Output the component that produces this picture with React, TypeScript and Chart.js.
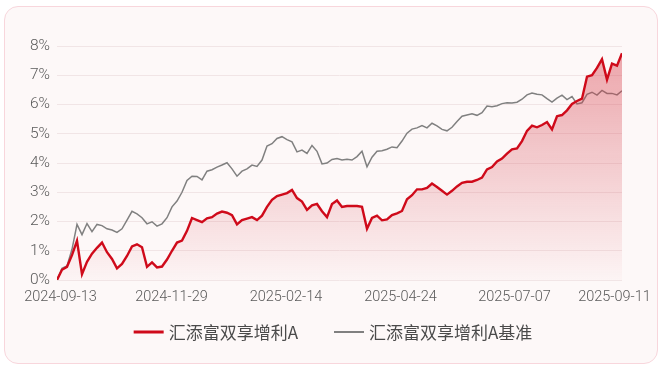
import React, { useEffect, useRef } from "react";
import { Chart, registerables } from "chart.js";

Chart.register(...registerables);

const fundName = "汇添富双享增利A";
const benchName = "汇添富双享增利A基准";

const tickLabels = ["2024-09-13", "2024-11-29", "2025-02-14", "2025-04-24", "2025-07-07", "2025-09-11"];
const tickIndex = [0.7, 22.9, 45.8, 68.7, 91.5, 111.5];

const yMin = 0;
const yMax = 8;

const fundValues = [
  0.0, 0.35, 0.45, 0.85, 1.34, 0.2, 0.62, 0.9, 1.1, 1.28,
  0.95, 0.72, 0.4, 0.55, 0.82, 1.15, 1.22, 1.12, 0.45, 0.6,
  0.43, 0.46, 0.7, 1.0, 1.28, 1.35, 1.68, 2.12, 2.05, 1.98,
  2.11, 2.15, 2.27, 2.34, 2.3, 2.22, 1.9, 2.05, 2.1, 2.15,
  2.05, 2.2, 2.5, 2.74, 2.87, 2.92, 2.97, 3.08, 2.8, 2.68,
  2.4, 2.55, 2.6, 2.35, 2.15, 2.6, 2.72, 2.5, 2.53, 2.53,
  2.53, 2.5, 1.75, 2.12, 2.2, 2.04, 2.07, 2.22, 2.28, 2.36,
  2.76, 2.9, 3.1, 3.1, 3.15, 3.3, 3.18, 3.05, 2.92, 3.05,
  3.2, 3.32, 3.36, 3.36, 3.42, 3.5, 3.78, 3.86, 4.05, 4.15,
  4.32, 4.47, 4.5, 4.75, 5.1, 5.28, 5.22, 5.3, 5.4, 5.15,
  5.6, 5.64, 5.8, 6.02, 6.12, 6.2, 6.95, 7.0, 7.25, 7.55,
  6.85, 7.4, 7.33, 7.75,
];

const benchValues = [
  0.0, 0.4, 0.48, 1.05, 1.9, 1.55, 1.93, 1.65, 1.9, 1.86,
  1.75, 1.71, 1.63, 1.75, 2.05, 2.35, 2.26, 2.13, 1.92, 1.99,
  1.84, 1.92, 2.13, 2.5, 2.7, 3.0, 3.4, 3.55, 3.54, 3.42,
  3.72, 3.77, 3.86, 3.93, 4.01, 3.8, 3.55, 3.72, 3.8, 3.93,
  3.88, 4.1, 4.58, 4.66, 4.84, 4.9, 4.8, 4.72, 4.38, 4.44,
  4.33, 4.6, 4.4, 3.97, 4.0, 4.12, 4.15, 4.1, 4.13, 4.1,
  4.22, 4.4, 3.87, 4.2, 4.4, 4.42, 4.47, 4.55, 4.52, 4.75,
  5.02, 5.16, 5.2, 5.28, 5.2, 5.36, 5.27, 5.15, 5.1, 5.22,
  5.42, 5.6, 5.64, 5.68, 5.63, 5.72, 5.95, 5.92, 5.96, 6.03,
  6.06, 6.05, 6.08, 6.18, 6.33, 6.39, 6.35, 6.33, 6.2, 6.08,
  6.22, 6.32, 6.17, 6.27, 6.02, 6.06, 6.35, 6.42, 6.32, 6.48,
  6.38, 6.38, 6.33, 6.47,
];

const fundColor = "#cf0a1a";
const benchColor = "#808080";

const legendPlugin = {
  id: "lineLegend",
  afterDraw(chart: any) {
    const { ctx, chartArea } = chart;
    ctx.save();
    ctx.font = '17px "Noto Sans CJK SC", sans-serif';
    ctx.textBaseline = "middle";
    ctx.textAlign = "left";
    const lineW = 30;
    const gap = 5;
    const itemGap = 36;
    const items = chart.data.datasets.map((ds: any) => ({
      text: ds.label as string,
      color: ds.borderColor as string,
      lw: ds.legendWidth as number,
      w: ctx.measureText(ds.label).width,
    }));
    let total = 0;
    items.forEach((it: any, i: number) => {
      total += lineW + gap + it.w + (i > 0 ? itemGap : 0);
    });
    let x = chart.width / 2 - total / 2 + 2;
    const y = chartArea.bottom + 52;
    items.forEach((it: any) => {
      ctx.strokeStyle = it.color;
      ctx.lineWidth = it.lw;
      ctx.beginPath();
      ctx.moveTo(x, y);
      ctx.lineTo(x + lineW, y);
      ctx.stroke();
      x += lineW + gap;
      ctx.fillStyle = "#4a4a4a";
      ctx.fillText(it.text, x, y + 1);
      x += it.w + itemGap;
    });
    ctx.restore();
  },
};

export default function App() {
  const ref = useRef<HTMLCanvasElement | null>(null);

  useEffect(() => {
    if (!ref.current) return;
    const chart = new Chart(ref.current, {
      type: "line",
      data: {
        datasets: [
          {
            label: fundName,
            data: fundValues.map((y, i) => ({ x: i, y })),
            borderColor: fundColor,
            borderWidth: 2.4,
            pointRadius: 0,
            tension: 0,
            fill: "origin",
            backgroundColor: (c: any) => {
              const area = c.chart.chartArea;
              if (!area) return "rgba(214,60,72,0.2)";
              const g = c.chart.ctx.createLinearGradient(0, area.top, 0, area.bottom);
              g.addColorStop(0, "rgba(214,60,72,0.45)");
              g.addColorStop(1, "rgba(214,60,72,0.02)");
              return g;
            },
            legendWidth: 3,
          } as any,
          {
            label: benchName,
            data: benchValues.map((y, i) => ({ x: i, y })),
            borderColor: benchColor,
            borderWidth: 1.5,
            pointRadius: 0,
            tension: 0,
            fill: false,
            legendWidth: 2,
          } as any,
        ],
      },
      options: {
        animation: false,
        responsive: false,
        layout: { padding: { left: 0, right: 35, top: 39, bottom: 53 } },
        plugins: { legend: { display: false }, tooltip: { enabled: false } },
        scales: {
          x: {
            type: "linear",
            min: 0,
            max: fundValues.length - 1,
            afterBuildTicks: (s: any) => {
              s.ticks = tickIndex.map((v) => ({ value: v }));
            },
            afterFit: (s: any) => {
              s.height = 30;
            },
            ticks: {
              autoSkip: false,
              maxRotation: 0,
              minRotation: 0,
              padding: 0,
              color: "#5a5a5a",
              font: { family: "Roboto, 'Noto Sans', sans-serif", size: 14.5, weight: "300" },
              callback: (_v: any, i: number) => tickLabels[i],
            },
            grid: { display: false, drawTicks: true, tickLength: 9 },
            border: { display: false },
          },
          y: {
            min: yMin,
            max: yMax,
            afterFit: (s: any) => {
              s.width = 52;
            },
            ticks: {
              stepSize: 1,
              padding: 7,
              color: "#5a5a5a",
              font: { family: "Roboto, 'Noto Sans', sans-serif", size: 15.5, weight: "300" },
              callback: (v: any) => `${v}%`,
            },
            grid: { color: "#f1e5e6", drawTicks: false, lineWidth: 1 },
            border: { display: false },
          },
        },
      },
      plugins: [legendPlugin],
    });
    return () => chart.destroy();
  }, []);

  return (
    <>
      <style>{"body{margin:0;}"}</style>
      <div
        style={{
          position: "absolute",
          left: 4,
          top: 6,
          width: 654,
          height: 358,
          boxSizing: "border-box",
          border: "1px solid #f8d6dc",
          borderRadius: 14,
          background: "#fdf8f8",
        }}
      >
        <canvas ref={ref} width={652} height={356} style={{ display: "block", width: 652, height: 356 }} />
      </div>
    </>
  );
}
